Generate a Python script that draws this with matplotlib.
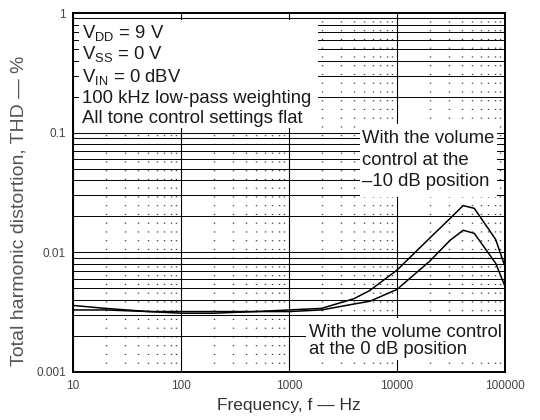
import matplotlib
matplotlib.use("Agg")
import matplotlib.pyplot as plt
from matplotlib.patches import Rectangle
import numpy as np

plt.rcParams['font.family'] = ['Liberation Sans', 'DejaVu Sans']
plt.rcParams['mathtext.fontset'] = 'custom'
plt.rcParams['mathtext.rm'] = 'Liberation Sans'

# THD vs frequency, two volume control settings
freq_hz = [10, 20, 50, 100, 200, 500, 1000, 2000, 4000, 5600,
           10000, 20000, 31000, 41000, 52000, 82000, 100000]
thd_minus10db = [0.0036, 0.0034, 0.0032, 0.0032, 0.0032, 0.0032, 0.0033, 0.0034, 0.0041, 0.0048,
                 0.0071, 0.0131, 0.0192, 0.0246, 0.0233, 0.0128, 0.0076]
thd_0db = [0.0033, 0.0033, 0.0032, 0.0031, 0.0031, 0.0032, 0.0032, 0.0033, 0.0037, 0.0039,
           0.0049, 0.0084, 0.0126, 0.0153, 0.0144, 0.0081, 0.0052]

x_ticks = [10, 100, 1000, 10000, 100000]
x_ticklabels = ['10', '100', '1000', '10000', '100000']
y_ticks = [0.001, 0.01, 0.1, 1]
y_ticklabels = ['0.001', '0.01', '0.1', '1']

conditions = [r'V$_{\mathregular{DD}}$ = 9 V',
              r'V$_{\mathregular{SS}}$ = 0 V',
              r'V$_{\mathregular{IN}}$ = 0 dBV',
              '100 kHz low-pass weighting',
              'All tone control settings flat']

fig = plt.figure(figsize=(5.4, 4.2), dpi=100)
ax = fig.add_axes([73 / 540, 48 / 420, 432 / 540, 359 / 420])
ax.set_xscale('log')
ax.set_yscale('log')
ax.set_xlim(10, 100000)
ax.set_ylim(0.001, 1)

# grid: solid horizontals at every decade step, dotted minor verticals
ax.set_axisbelow(True)
ax.grid(True, which='both', axis='y', color='black', linewidth=0.7)
ax.grid(True, which='major', axis='x', color='black', linewidth=0.8)
ax.grid(True, which='minor', axis='x', color='#333333', linewidth=1.0,
        linestyle=(0, (0.8, 5.5)))

ax.plot(freq_hz, thd_minus10db, color='black', linewidth=1.1, zorder=3)
ax.plot(freq_hz, thd_0db, color='black', linewidth=1.1, zorder=3)

ax.set_xticks(x_ticks)
ax.set_xticklabels(x_ticklabels)
ax.set_yticks(y_ticks)
ax.set_yticklabels(y_ticklabels)
ax.tick_params(which='both', length=0, labelsize=8.5, colors='#444444')
ax.tick_params(axis='y', pad=5)
ax.tick_params(axis='x', pad=6)
for s in ax.spines.values():
    s.set_linewidth(1.4)
    s.set_zorder(4)

ax.set_xlabel('Frequency, f \u2014 Hz', fontsize=12.5, color='#333333', labelpad=4)
ax.set_ylabel('Total harmonic distortion, THD \u2014 %', fontsize=14, color='#555555')
ax.yaxis.set_label_coords(-0.105, 0.45)

# white panels behind the notes
for x0, y0, w, h in [(0.014, 0.680, 0.553, 0.300),
                     (0.664, 0.487, 0.317, 0.204),
                     (0.539, 0.033, 0.461, 0.117)]:
    ax.add_patch(Rectangle((x0, y0), w, h, transform=ax.transAxes,
                           facecolor='white', edgecolor='none', zorder=1))

txt = dict(transform=ax.transAxes, fontsize=13.3, color='#1a1a1a', va='baseline',
           ha='left', zorder=5)
for line, yb in zip(conditions, [0.930, 0.872, 0.808, 0.749, 0.694]):
    ax.text(0.021, yb, line, **txt)

ax.text(0.669, 0.638, 'With the volume', **txt)
ax.text(0.669, 0.577, 'control at the', **txt)
ax.text(0.669, 0.518, '\u201310 dB position', **txt)

ax.text(0.546, 0.0975, 'With the volume control', **txt)
ax.text(0.546, 0.050, 'at the 0 dB position', **txt)

fig.savefig('out.png', dpi=100, facecolor='white')
